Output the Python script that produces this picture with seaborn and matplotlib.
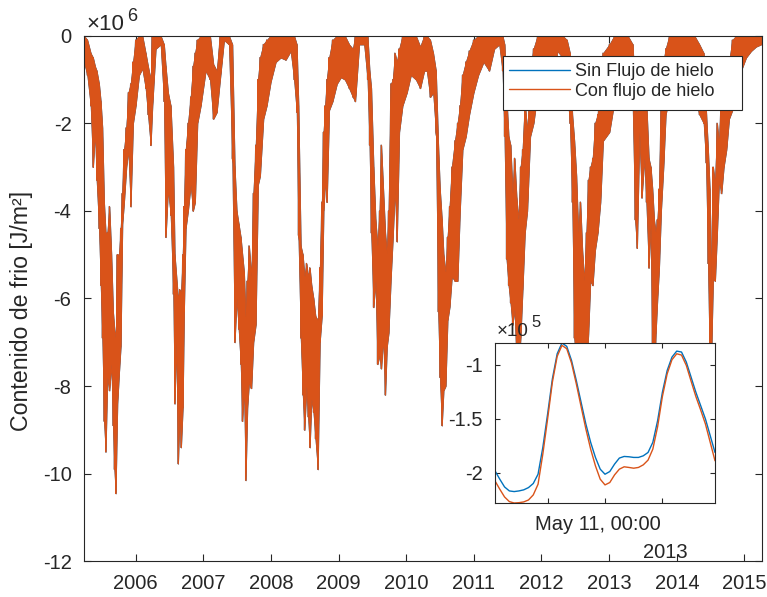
import numpy as np
import pandas as pd
import matplotlib
matplotlib.use("Agg")
import matplotlib.pyplot as plt
import matplotlib.dates as mdates
from matplotlib.patches import Rectangle
from matplotlib.transforms import ScaledTranslation
import seaborn as sns

# --- Serie diaria: envolvente del contenido de frío (x10^6 J/m²) ---
anio_decimal = [
    2005.235, 2005.284, 2005.334, 2005.368, 2005.398, 2005.422, 2005.457, 2005.482, 2005.506, 2005.531,
    2005.555, 2005.580, 2005.610, 2005.639, 2005.664, 2005.684, 2005.703, 2005.728, 2005.753, 2005.777,
    2005.802, 2005.827, 2005.861, 2005.891, 2005.925, 2005.960, 2005.999, 2006.049, 2006.098, 2006.147,
    2006.182, 2006.221, 2006.246, 2006.295, 2006.369, 2006.418, 2006.443, 2006.478, 2006.517, 2006.556,
    2006.576, 2006.601, 2006.626, 2006.650, 2006.670, 2006.695, 2006.714, 2006.739, 2006.773, 2006.813,
    2006.847, 2006.877, 2006.912, 2006.961, 2007.035, 2007.099, 2007.148, 2007.198, 2007.247, 2007.306,
    2007.380, 2007.429, 2007.464, 2007.493, 2007.523, 2007.553, 2007.577, 2007.602, 2007.626, 2007.651,
    2007.676, 2007.710, 2007.740, 2007.775, 2007.809, 2007.839, 2007.888, 2007.937, 2007.997, 2008.071,
    2008.144, 2008.218, 2008.292, 2008.342, 2008.381, 2008.406, 2008.440, 2008.470, 2008.495, 2008.524,
    2008.549, 2008.573, 2008.598, 2008.628, 2008.657, 2008.692, 2008.721, 2008.751, 2008.776, 2008.800,
    2008.825, 2008.859, 2008.909, 2008.973, 2009.032, 2009.091, 2009.155, 2009.210, 2009.244, 2009.303,
    2009.377, 2009.427, 2009.456, 2009.481, 2009.515, 2009.545, 2009.574, 2009.604, 2009.629, 2009.658,
    2009.688, 2009.713, 2009.737, 2009.772, 2009.801, 2009.831, 2009.861, 2009.895, 2009.944, 2010.008,
    2010.068, 2010.142, 2010.206, 2010.265, 2010.304, 2010.354, 2010.398, 2010.438, 2010.472, 2010.497,
    2010.526, 2010.551, 2010.581, 2010.610, 2010.640, 2010.674, 2010.719, 2010.758, 2010.793, 2010.832,
    2010.881, 2010.931, 2010.995, 2011.064, 2011.143, 2011.227, 2011.301, 2011.375, 2011.424, 2011.453,
    2011.483, 2011.513, 2011.542, 2011.572, 2011.601, 2011.631, 2011.660, 2011.690, 2011.720, 2011.754,
    2011.789, 2011.833, 2011.882, 2011.942, 2012.015, 2012.090, 2012.163, 2012.237, 2012.311, 2012.375,
    2012.420, 2012.454, 2012.484, 2012.514, 2012.543, 2012.573, 2012.602, 2012.632, 2012.662, 2012.691,
    2012.721, 2012.755, 2012.790, 2012.829, 2012.869, 2012.908, 2013.002, 2013.076, 2013.174, 2013.273,
    2013.347, 2013.382, 2013.411, 2013.446, 2013.480, 2013.520, 2013.549, 2013.584, 2013.613, 2013.638,
    2013.663, 2013.687, 2013.712, 2013.737, 2013.766, 2013.801, 2013.835, 2013.889, 2013.963, 2014.037,
    2014.111, 2014.185, 2014.259, 2014.333, 2014.397, 2014.432, 2014.461, 2014.486, 2014.511, 2014.536,
    2014.565, 2014.595, 2014.624, 2014.659, 2014.693, 2014.733, 2014.772, 2014.821, 2014.876, 2014.950,
    2015.024, 2015.098, 2015.171, 2015.245,
]

minimo_diario = [
    -0.6, -0.9, -1.6, -3.0, -2.2, -3.3, -4.4, -5.7, -6.9, -8.8,
    -9.5, -7.8, -8.1, -7.5, -8.9, -9.9, -10.45, -8.4, -7.7, -7.1,
    -4.3, -3.8, -3.0, -2.6, -3.9, -2.0, -1.6, -0.9, -0.75, -1.2,
    -1.8, -2.5, -1.6, -0.3, -0.2, -1.5, -4.6, -3.5, -4.1, -5.9,
    -8.4, -7.0, -9.77, -8.5, -9.4, -8.5, -6.3, -4.4, -4.0, -3.4,
    -4.0, -3.8, -2.0, -1.6, -0.8, -1.0, -1.9, -1.75, -1.0, -0.1,
    -0.2, -2.8, -7.0, -6.0, -6.7, -7.5, -8.8, -8.0, -10.15, -8.5,
    -7.9, -8.05, -7.0, -6.6, -3.4, -3.2, -1.9, -1.6, -1.05, -0.6,
    -0.5, -0.55, -0.35, -1.0, -1.75, -4.55, -6.9, -8.2, -9.0, -8.0,
    -8.7, -9.4, -8.3, -8.6, -9.2, -9.9, -7.0, -6.4, -4.0, -3.3,
    -3.8, -1.7, -1.5, -1.1, -0.95, -1.0, -1.2, -1.4, -1.5, -0.2,
    -0.2, -1.0, -2.5, -4.5, -6.2, -5.6, -7.5, -7.3, -7.6, -6.9,
    -8.2, -7.1, -6.8, -5.5, -4.6, -3.5, -4.7, -2.2, -1.6, -1.3,
    -0.9, -1.0, -1.2, -0.8, -0.8, -1.4, -1.3, -2.2, -6.3, -7.8,
    -8.9, -8.1, -8.0, -6.5, -6.2, -5.5, -5.6, -5.6, -4.0, -2.6,
    -2.3, -1.8, -1.3, -0.9, -0.6, -0.8, -0.3, -0.2, -0.8, -2.3,
    -5.1, -5.7, -6.1, -6.6, -6.25, -7.4, -7.6, -6.9, -5.8, -4.5,
    -4.0, -2.3, -2.0, -1.3, -0.9, -0.6, -1.0, -0.35, -0.5, -1.2,
    -2.0, -3.8, -6.9, -7.6, -8.0, -7.5, -7.8, -7.2, -7.7, -6.8,
    -5.6, -5.7, -4.9, -4.5, -3.8, -2.4, -2.2, -1.5, -1.2, -1.3,
    -1.6, -4.2, -4.85, -2.2, -3.7, -2.8, -3.8, -5.3, -4.3, -7.5,
    -8.0, -6.8, -6.0, -5.3, -4.0, -3.0, -1.8, -1.4, -0.9, -0.8,
    -0.7, -1.1, -1.3, -1.8, -2.0, -2.9, -5.2, -7.5, -7.2, -5.5,
    -5.6, -4.5, -3.3, -3.6, -3.0, -2.6, -1.9, -1.7, -1.0, -0.8,
    -0.5, -0.35, -0.25, -0.2,
]

maximo_diario = [
    0.0, -0.1, -0.4, -0.5, -0.7, -0.8, -1.1, -1.5, -2.1, -3.8,
    -4.5, -4.5, -3.9, -5.0, -6.3, -6.7, -6.9, -5.0, -5.0, -4.4,
    -3.6, -2.6, -2.1, -1.3, -1.1, -0.6, -0.1, 0.0, 0.0, -0.4,
    -0.7, -1.0, 0.0, 0.0, 0.0, -0.2, -0.7, -1.3, -1.6, -3.0,
    -5.0, -5.5, -6.0, -5.8, -5.9, -5.0, -3.9, -2.6, -2.0, -1.4,
    -0.7, -0.4, -0.1, 0.0, 0.0, 0.0, -0.65, -0.8, 0.0, 0.0,
    0.0, -0.2, -3.0, -4.0, -4.3, -4.6, -5.0, -5.4, -6.5, -5.6,
    -4.8, -5.5, -3.6, -2.5, -1.0, -0.5, -0.2, -0.1, 0.0, 0.0,
    0.0, 0.0, 0.0, 0.0, -0.2, -1.6, -4.8, -5.0, -5.5, -5.2,
    -5.5, -5.3, -5.7, -6.0, -6.4, -6.5, -5.3, -3.8, -2.2, -1.6,
    -1.0, -0.5, -0.1, 0.0, 0.0, 0.0, -0.2, -0.3, 0.0, 0.0,
    0.0, 0.0, -0.8, -1.2, -3.0, -4.2, -4.8, -4.0, -2.5, -3.5,
    -4.5, -5.0, -4.0, -1.1, -1.0, -0.4, -0.6, -0.3, 0.0, 0.0,
    0.0, 0.0, -0.25, 0.0, 0.0, -0.1, -0.4, -0.8, -2.5, -3.5,
    -4.2, -5.0, -5.4, -4.6, -3.9, -3.0, -2.4, -2.0, -1.6, -0.9,
    -0.6, -0.35, -0.1, 0.0, 0.0, 0.0, 0.0, 0.0, 0.0, -0.2,
    -1.4, -2.3, -2.5, -3.6, -2.8, -3.7, -4.2, -3.0, -2.6, -1.5,
    -2.2, -0.8, -0.3, 0.0, 0.0, 0.0, 0.0, 0.0, 0.0, -0.1,
    -0.4, -1.8, -2.4, -3.2, -4.5, -3.8, -4.9, -5.6, -4.5, -3.3,
    -3.0, -2.8, -2.0, -1.8, -0.7, -0.4, -0.2, 0.0, 0.0, 0.0,
    -0.2, -1.4, -1.9, -0.6, -0.9, -1.0, -1.5, -2.8, -3.0, -3.5,
    -4.2, -4.5, -4.2, -3.5, -1.5, -0.6, -0.3, 0.0, 0.0, 0.0,
    0.0, 0.0, 0.0, -0.2, -0.4, -1.7, -2.6, -3.5, -5.7, -3.0,
    -3.4, -2.0, -2.5, -1.1, -1.4, -0.5, -0.6, -0.1, 0.0, 0.0,
    0.0, 0.0, 0.0, 0.0,
]

series = ["Sin Flujo de hielo", "Con flujo de hielo"]
colores = ["#0072BD", "#D95319"]

# --- Detalle horario, 10-11 de mayo de 2013 (x10^5 J/m²) ---
hora_inicio = "2013-05-10 01:00"
sin_flujo_horario = [
    -1.984, -2.062, -2.134, -2.171, -2.177, -2.171, -2.161, -2.140, -2.102, -2.016,
    -1.767, -1.457, -1.130, -0.898, -0.798, -0.829, -0.960, -1.146, -1.348, -1.550,
    -1.720, -1.860, -1.969, -2.016, -1.991, -1.922, -1.866, -1.851, -1.854, -1.860,
    -1.860, -1.845, -1.814, -1.720, -1.519, -1.255, -1.053, -0.929, -0.873, -0.882,
    -0.975, -1.115, -1.255, -1.379, -1.503, -1.658, -1.814,
]
con_flujo_horario = [
    -2.078, -2.155, -2.227, -2.270, -2.283, -2.280, -2.273, -2.255, -2.208, -2.109,
    -1.829, -1.503, -1.161, -0.922, -0.820, -0.851, -0.984, -1.177, -1.388, -1.596,
    -1.783, -1.938, -2.062, -2.115, -2.093, -2.022, -1.969, -1.947, -1.953, -1.960,
    -1.953, -1.929, -1.885, -1.783, -1.575, -1.295, -1.084, -0.953, -0.898, -0.910,
    -1.006, -1.152, -1.295, -1.419, -1.550, -1.720, -1.891,
]

anios_eje = list(range(2006, 2016))
ticks_y = list(range(-12, 1, 2))
ticks_y_detalle = [-2.0, -1.5, -1.0]
etiquetas_y_detalle = ["-2", "-1.5", "-1"]


def fecha_desde_decimal(a):
    anio = int(np.floor(a))
    ini = pd.Timestamp(anio, 1, 1)
    fin = pd.Timestamp(anio + 1, 1, 1)
    return ini + (fin - ini) * (a - anio)


sns.set_style("ticks")
plt.rcParams["font.family"] = ["Liberation Sans", "DejaVu Sans"]
plt.rcParams["axes.unicode_minus"] = False
gris = "#262626"
W, H = 767, 597

fig = plt.figure(figsize=(W / 100, H / 100), dpi=100)
ax = fig.add_axes([84 / W, 1 - 561.3 / H, 678 / W, 525.6 / H])

fechas = pd.DatetimeIndex([fecha_desde_decimal(a) for a in anio_decimal])
inf = np.asarray(minimo_diario)
sup = np.asarray(maximo_diario)

# trazo en zigzag entre máximo y mínimo de cada fecha (ciclo diario)
zig_x = np.repeat(fechas.values, 2)
zig_y = np.column_stack([sup, inf]).ravel()
datos = pd.DataFrame({"fecha": zig_x, "valor": zig_y})

for k, (nombre, color) in enumerate(zip(series, colores)):
    ax.fill_between(fechas, inf, sup, color=color, lw=0.6, edgecolor=color,
                    zorder=2 + 2 * k)
    sns.lineplot(data=datos, x="fecha", y="valor", sort=False, estimator=None,
                 color=color, lw=0.9, ax=ax, label=nombre, zorder=2.5 + 2 * k)

ax.set_xlim(fecha_desde_decimal(2005.235), fecha_desde_decimal(2015.26))
ax.set_ylim(-12, 0)
ax.set_xticks([pd.Timestamp(a, 1, 1) for a in anios_eje])
ax.xaxis.set_major_formatter(mdates.DateFormatter("%Y"))
ax.set_yticks(ticks_y)
ax.set_yticklabels([str(v) for v in ticks_y])
ax.set_xlabel("")
ax.set_ylabel("")
ax.tick_params(direction="in", length=5, width=0.8, top=True, right=True,
               colors=gris, labelsize=14.5, pad=9)
for s in ax.spines.values():
    s.set_color(gris)
    s.set_linewidth(0.8)
    s.set_zorder(10)

fig.text(22 / W, 1 - 311 / H, "Contenido de frio [J/m²]", rotation=90,
         ha="center", va="center", fontsize=16.7, color=gris)
fig.text(86 / W, 1 - 30 / H, "×10", ha="left", va="baseline", fontsize=16, color=gris)
fig.text(127.5 / W, 1 - 21 / H, "6", ha="left", va="baseline", fontsize=13, color=gris)

# leyenda con marco rectangular propio
marco = Rectangle((503 / W, 1 - 110 / H), (742 - 503) / W, (110 - 56) / H,
                  transform=fig.transFigure, facecolor="white", edgecolor=gris,
                  lw=0.8, zorder=8, clip_on=False)
ax.add_patch(marco)
leg = ax.legend(loc="upper left", bbox_to_anchor=(509 / W, 1 - 63.5 / H),
                bbox_transform=fig.transFigure, frameon=False, fontsize=13,
                handlelength=3.38, handletextpad=0.28, borderpad=0,
                labelspacing=0.12, borderaxespad=0)
leg.set_zorder(9)
for h in leg.get_lines():
    h.set_linewidth(1.0)

# --- recuadro con el detalle horario ---
axi = fig.add_axes([495 / W, 1 - 503 / H, 220 / W, 160 / H])
axi.set_facecolor("white")
horas = pd.date_range(hora_inicio, periods=len(sin_flujo_horario), freq="h")
detalle = pd.DataFrame({
    "hora": np.concatenate([horas, horas]),
    "valor": sin_flujo_horario + con_flujo_horario,
    "serie": [series[0]] * len(horas) + [series[1]] * len(horas),
})
sns.lineplot(data=detalle, x="hora", y="valor", hue="serie", hue_order=series,
             palette=colores, lw=1.0, ax=axi, legend=False)
axi.set_xlim(horas[0], horas[-1])
axi.set_ylim(min(con_flujo_horario), max(sin_flujo_horario))
axi.set_xticks([pd.Timestamp("2013-05-10 12:00"), pd.Timestamp("2013-05-11 00:00"),
                pd.Timestamp("2013-05-11 12:00")])
axi.set_xticklabels(["", "May 11, 00:00", ""])
axi.set_yticks(ticks_y_detalle)
axi.set_yticklabels(etiquetas_y_detalle)
axi.set_xlabel("")
axi.set_ylabel("")
axi.tick_params(direction="in", length=3.5, width=0.8, top=True, right=True,
                colors=gris, labelsize=14.5, pad=9)
for lab in axi.get_xticklabels():
    lab.set_transform(lab.get_transform() + ScaledTranslation(-7 / 100, 0, fig.dpi_scale_trans))
for s in axi.spines.values():
    s.set_color(gris)
    s.set_linewidth(0.8)
fig.text(497 / W, 1 - 336 / H, "×10", ha="left", va="baseline", fontsize=13.5, color=gris)
fig.text(531 / W, 1 - 327 / H, "5", ha="left", va="baseline", fontsize=12, color=gris)
fig.text(665 / W, 1 - 552 / H, "2013", ha="center", va="center", fontsize=14.5, color=gris)

fig.savefig("out.png", dpi=100)
